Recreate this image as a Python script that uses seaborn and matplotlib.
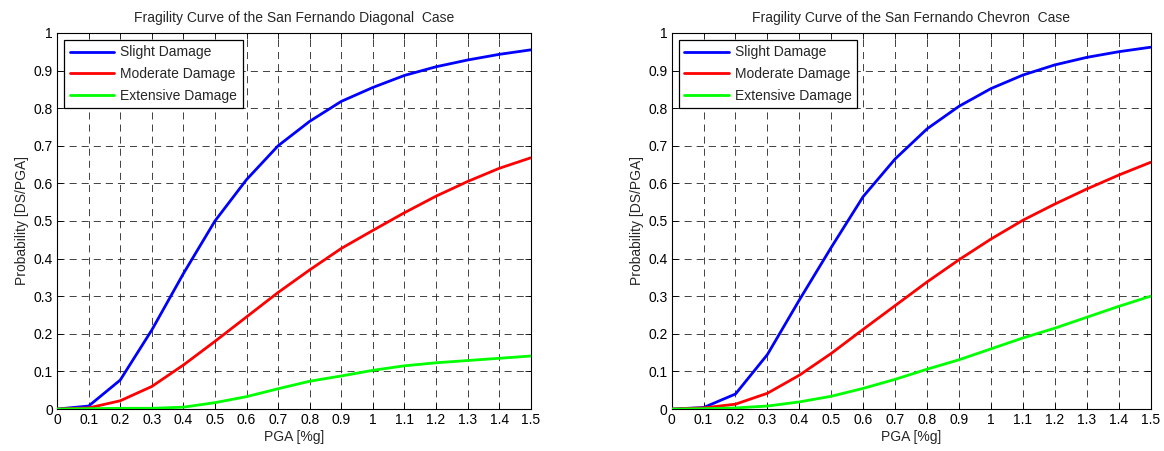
import numpy as np
import pandas as pd
import matplotlib
matplotlib.use("Agg")
import matplotlib.pyplot as plt
import seaborn as sns

# ----------------------------
# Data
# ----------------------------
pga = [0, 0.1, 0.2, 0.3, 0.4, 0.5, 0.6, 0.7, 0.8, 0.9, 1.0, 1.1, 1.2, 1.3, 1.4, 1.5]

diag_slight = [0, 0.008, 0.077, 0.21, 0.36, 0.50, 0.61, 0.70, 0.765, 0.818,
               0.855, 0.887, 0.91, 0.928, 0.943, 0.955]
diag_moderate = [0, 0.003, 0.022, 0.06, 0.117, 0.18, 0.245, 0.31, 0.37, 0.427,
                 0.475, 0.522, 0.566, 0.605, 0.64, 0.668]
diag_extensive = [0, 0.001, 0.002, 0.002, 0.005, 0.017, 0.033, 0.054, 0.074, 0.088,
                  0.103, 0.115, 0.123, 0.129, 0.135, 0.141]

chev_slight = [0, 0.004, 0.04, 0.145, 0.29, 0.43, 0.565, 0.665, 0.745, 0.805,
               0.852, 0.888, 0.915, 0.935, 0.95, 0.962]
chev_moderate = [0, 0.003, 0.013, 0.042, 0.09, 0.148, 0.212, 0.275, 0.338, 0.397,
                 0.452, 0.502, 0.545, 0.585, 0.622, 0.656]
chev_extensive = [0, 0.001, 0.003, 0.008, 0.019, 0.034, 0.055, 0.079, 0.106, 0.131,
                  0.16, 0.189, 0.215, 0.244, 0.273, 0.30]

states = ["Slight Damage", "Moderate Damage", "Extensive Damage"]
colors = ["#0000ff", "#ff0000", "#00ff00"]
titles = ["Fragility Curve of the San Fernando Diagonal  Case",
          "Fragility Curve of the San Fernando Chevron  Case"]
xticklabels = ["0", "0.1", "0.2", "0.3", "0.4", "0.5", "0.6", "0.7", "0.8",
               "0.9", "1", "1.1", "1.2", "1.3", "1.4", "1.5"]
yticklabels = ["0", "0.1", "0.2", "0.3", "0.4", "0.5", "0.6", "0.7", "0.8", "0.9", "1"]


def to_long(series):
    rows = []
    for state, vals in zip(states, series):
        for x, y in zip(pga, vals):
            rows.append({"PGA": x, "Prob": y, "State": state})
    return pd.DataFrame(rows)


cases = [to_long([diag_slight, diag_moderate, diag_extensive]),
         to_long([chev_slight, chev_moderate, chev_extensive])]

# ----------------------------
# Style (MATLAB-ish)
# ----------------------------
sns.set_style("ticks")
plt.rcParams["font.family"] = ["Liberation Sans", "DejaVu Sans"]
plt.rcParams["font.size"] = 10
plt.rcParams["xtick.direction"] = "in"
plt.rcParams["ytick.direction"] = "in"

fig = plt.figure(figsize=(11.64, 4.51), dpi=100)
positions = [[0.049, 0.093, 0.407, 0.834], [0.577, 0.093, 0.4115, 0.834]]

for pos, df, title in zip(positions, cases, titles):
    ax = fig.add_axes(pos)
    sns.lineplot(data=df, x="PGA", y="Prob", hue="State", hue_order=states,
                 palette=colors, linewidth=2, ax=ax, zorder=3)
    ax.set_xlim(0, 1.5)
    ax.set_ylim(0, 1)
    ax.set_xticks(np.arange(0, 1.51, 0.1))
    ax.set_yticks(np.arange(0, 1.01, 0.1))
    ax.set_xticklabels(xticklabels, fontsize=10)
    ax.set_yticklabels(yticklabels, fontsize=10)
    ax.grid(True, color="#222222", linestyle=(0, (8.5, 6)), linewidth=0.6, zorder=0)
    ax.tick_params(top=True, right=True, length=4, width=0.6, pad=3, colors="black")
    for sp in ax.spines.values():
        sp.set_visible(True)
        sp.set_linewidth(0.8)
        sp.set_color("black")
    ax.set_xlabel("PGA [%g]", fontsize=10, labelpad=2)
    ax.set_ylabel("Probability [DS/PGA]", fontsize=10, labelpad=3)
    ax.set_title(title, fontsize=10, pad=8)
    leg = ax.legend(loc="upper left", fontsize=10, frameon=True, fancybox=False,
                    edgecolor="black", framealpha=1, borderaxespad=0.5,
                    handlelength=3.2, handletextpad=0.45, labelspacing=0.55,
                    borderpad=0.4)
    leg.get_frame().set_linewidth(0.9)

fig.savefig("out.png", dpi=100, facecolor="white")
